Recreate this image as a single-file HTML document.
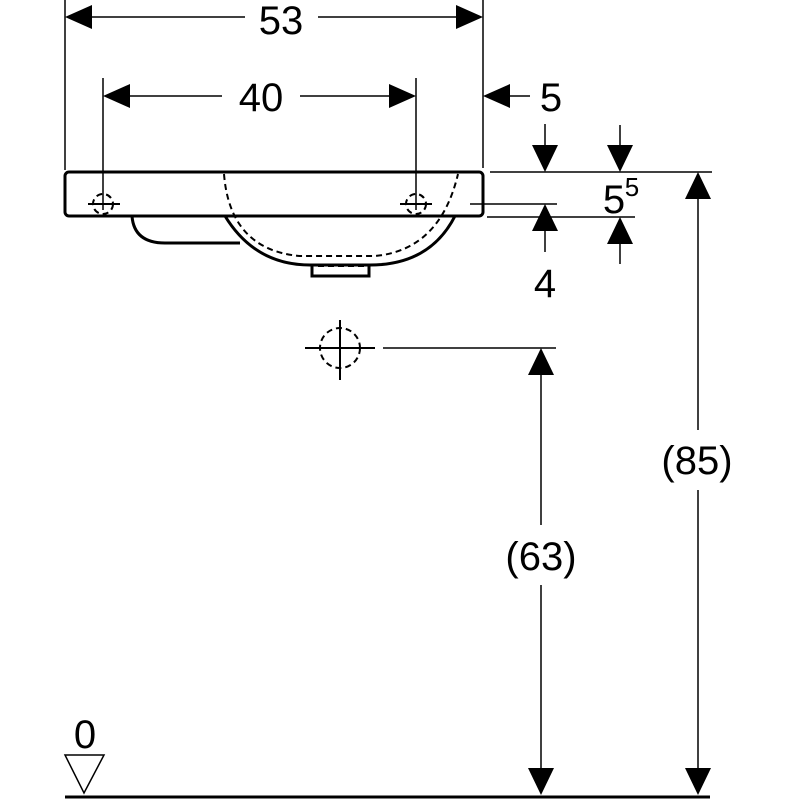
<!DOCTYPE html>
<html><head><style>html,body{margin:0;padding:0;background:#fff}svg{display:block}</style></head>
<body>
<svg width="800" height="800" viewBox="0 0 800 800" xmlns="http://www.w3.org/2000/svg" font-family="Liberation Sans, sans-serif" fill="none" stroke="#000">
<g stroke-width="1.5">
<line x1="65" y1="0" x2="65" y2="170"/>
<line x1="483" y1="0" x2="483" y2="168"/>
<line x1="103" y1="78" x2="103" y2="210"/>
<line x1="416" y1="78" x2="416" y2="210"/>
<line x1="490" y1="172" x2="712" y2="172"/>
<line x1="470" y1="204" x2="557" y2="204"/>
<line x1="487" y1="217" x2="635" y2="217"/>
<line x1="383" y1="348" x2="556" y2="348"/>
</g>
<g fill="#000" stroke="none">
<path d="M65,17 L92,5 L92,29z"/><path d="M483,17 L456,5 L456,29z"/>
<path d="M103,96 L130,84 L130,108z"/><path d="M416,96 L389,84 L389,108z"/>
<path d="M483,96 L510,84 L510,108z"/>
<path d="M545,172 L532,145 L558,145z"/><path d="M545,204 L532,231 L558,231z"/>
<path d="M620,172 L607,145 L633,145z"/><path d="M620,217 L607,244 L633,244z"/>
<path d="M698,172 L685,199 L711,199z"/><path d="M698,795 L685,768 L711,768z"/>
<path d="M541,348 L528,375 L554,375z"/><path d="M541,795 L528,768 L554,768z"/>
</g>
<g stroke-width="1.5">
<line x1="92" y1="17" x2="245" y2="17"/><line x1="318" y1="17" x2="456" y2="17"/>
<line x1="130" y1="96" x2="222" y2="96"/><line x1="300" y1="96" x2="389" y2="96"/>
<line x1="510" y1="96" x2="530" y2="96"/>
<line x1="545" y1="124" x2="545" y2="145"/><line x1="545" y1="231" x2="545" y2="252"/>
<line x1="620" y1="125" x2="620" y2="145"/><line x1="620" y1="244" x2="620" y2="264"/>
<line x1="698" y1="199" x2="698" y2="430"/><line x1="698" y1="490" x2="698" y2="768"/>
<line x1="541" y1="375" x2="541" y2="525"/><line x1="541" y1="585" x2="541" y2="768"/>
</g>
<g fill="#000" stroke="none" font-size="40" text-anchor="middle">
<text x="281" y="34">53</text>
<text x="261" y="111">40</text>
<text x="551" y="111">5</text>
<text x="545" y="297">4</text>
<text x="614" y="213">5</text><text x="632" y="196" font-size="26">5</text>
<text x="697" y="474">(85)</text>
<text x="541" y="570">(63)</text>
<text x="85" y="748">0</text>
</g>
<g stroke-width="3">
<rect x="65" y="172" width="418" height="44" rx="4"/>
<path d="M132,216 Q134,243 165,243 L240,243"/>
<path d="M225,216 Q255,265 310,265 L370,265 Q430,265 455,216"/>
<path d="M312,265 L312,276 L369,276 L369,265"/>
<line x1="65" y1="797" x2="710" y2="797"/>
</g>
<g stroke-width="2" stroke-dasharray="6,4">
<path d="M224,174 Q230,250 300,256 L375,256 Q440,250 458,174"/>
<path d="M318,266 L365,266"/>
<circle cx="103" cy="204" r="10"/><circle cx="416" cy="204" r="10"/>
<circle cx="340" cy="348" r="20"/>
</g>
<g stroke-width="2">
<line x1="88" y1="204" x2="120" y2="204"/><line x1="400" y1="204" x2="432" y2="204"/>
<line x1="305" y1="348" x2="375" y2="348"/><line x1="340" y1="320" x2="340" y2="380"/>
</g>
<path d="M65,755 L104,755 L84,793z" stroke-width="1.5"/>
</svg>
</body></html>
